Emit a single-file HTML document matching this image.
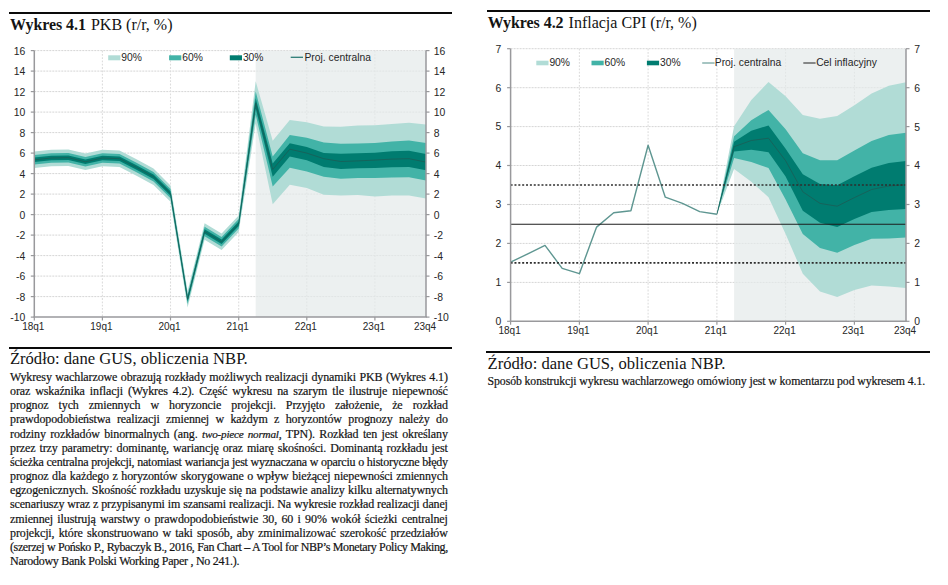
<!DOCTYPE html>
<html lang="pl"><head><meta charset="utf-8"><title>Wykresy 4.1 i 4.2</title>
<style>
html,body{margin:0;padding:0;background:#fff;}
body{width:948px;height:585px;position:relative;overflow:hidden;font-family:"Liberation Serif",serif;color:#141414;}
.rule{position:absolute;height:2px;background:#0a0a0a;}
.t{position:absolute;white-space:nowrap;line-height:1;}
.ttl{font-size:16px;}
.ttl b{letter-spacing:-0.06px;margin-right:1px;}
.src{font-size:16.6px;}
.p{position:absolute;left:10px;width:437.8px;font-size:12px;line-height:14.19px;-webkit-text-stroke:0.2px #141414;}
.p div{text-align:justify;text-align-last:justify;white-space:nowrap;height:14.19px;}
.p i{font-size:0.93em;letter-spacing:-0.2px;}
.p div.last{text-align:left;text-align-last:left;}
.n{font-size:11.8px;letter-spacing:-0.103px;-webkit-text-stroke:0.2px #141414;}
</style></head><body>
<svg width="948" height="585" viewBox="0 0 948 585" style="position:absolute;left:0;top:0" font-family="Liberation Sans, sans-serif" font-size="10.4" fill="#262626">
<line x1="34.3" y1="296.6" x2="426.0" y2="296.6" stroke="#d5d5d5" stroke-width="1" stroke-dasharray="2,1"/>
<line x1="34.3" y1="276.1" x2="426.0" y2="276.1" stroke="#d5d5d5" stroke-width="1" stroke-dasharray="2,1"/>
<line x1="34.3" y1="255.6" x2="426.0" y2="255.6" stroke="#d5d5d5" stroke-width="1" stroke-dasharray="2,1"/>
<line x1="34.3" y1="235.1" x2="426.0" y2="235.1" stroke="#d5d5d5" stroke-width="1" stroke-dasharray="2,1"/>
<line x1="34.3" y1="214.6" x2="426.0" y2="214.6" stroke="#d5d5d5" stroke-width="1" stroke-dasharray="2,1"/>
<line x1="34.3" y1="194.1" x2="426.0" y2="194.1" stroke="#d5d5d5" stroke-width="1" stroke-dasharray="2,1"/>
<line x1="34.3" y1="173.6" x2="426.0" y2="173.6" stroke="#d5d5d5" stroke-width="1" stroke-dasharray="2,1"/>
<line x1="34.3" y1="153.1" x2="426.0" y2="153.1" stroke="#d5d5d5" stroke-width="1" stroke-dasharray="2,1"/>
<line x1="34.3" y1="132.6" x2="426.0" y2="132.6" stroke="#d5d5d5" stroke-width="1" stroke-dasharray="2,1"/>
<line x1="34.3" y1="112.1" x2="426.0" y2="112.1" stroke="#d5d5d5" stroke-width="1" stroke-dasharray="2,1"/>
<line x1="34.3" y1="91.6" x2="426.0" y2="91.6" stroke="#d5d5d5" stroke-width="1" stroke-dasharray="2,1"/>
<line x1="34.3" y1="71.1" x2="426.0" y2="71.1" stroke="#d5d5d5" stroke-width="1" stroke-dasharray="2,1"/>
<line x1="34.3" y1="50.6" x2="426.0" y2="50.6" stroke="#d5d5d5" stroke-width="1" stroke-dasharray="2,1"/>
<line x1="102.4" y1="50.6" x2="102.4" y2="317.1" stroke="#dddddd" stroke-width="1.1" stroke-dasharray="1.8,1.5"/>
<line x1="170.5" y1="50.6" x2="170.5" y2="317.1" stroke="#dddddd" stroke-width="1.1" stroke-dasharray="1.8,1.5"/>
<line x1="238.7" y1="50.6" x2="238.7" y2="317.1" stroke="#dddddd" stroke-width="1.1" stroke-dasharray="1.8,1.5"/>
<line x1="306.8" y1="50.6" x2="306.8" y2="317.1" stroke="#dddddd" stroke-width="1.1" stroke-dasharray="1.8,1.5"/>
<line x1="374.9" y1="50.6" x2="374.9" y2="317.1" stroke="#dddddd" stroke-width="1.1" stroke-dasharray="1.8,1.5"/>
<rect x="255.7" y="50.6" width="170.3" height="266.5" fill="#e4e9ea" fill-opacity="0.7"/>
<polygon points="34.3,151.6 51.3,149.8 68.4,149.5 85.4,153.6 102.4,149.8 119.5,150.5 136.5,159.2 153.5,168.5 170.5,185.4 187.6,291.0 204.6,223.3 221.6,233.6 238.7,215.6 255.7,81.3 272.7,140.8 289.8,120.0 306.8,122.3 323.8,126.5 340.8,126.7 357.9,125.6 374.9,125.2 391.9,124.0 409.0,122.8 426.0,124.6 426.0,198.5 409.0,195.4 391.9,195.6 374.9,196.4 357.9,195.0 340.8,195.4 323.8,194.7 306.8,187.9 289.8,184.7 272.7,204.3 255.7,123.4 238.7,232.0 221.6,250.0 204.6,239.7 187.6,307.4 170.5,201.8 153.5,184.9 136.5,175.7 119.5,166.9 102.4,166.2 85.4,170.0 68.4,165.9 51.3,166.2 34.3,168.0" fill="#b1dcd6"/>
<polygon points="34.3,155.0 51.3,153.3 68.4,153.0 85.4,157.1 102.4,153.3 119.5,154.0 136.5,162.7 153.5,172.0 170.5,188.9 187.6,294.4 204.6,226.8 221.6,237.0 238.7,219.1 255.7,91.6 272.7,156.5 289.8,134.9 306.8,137.7 323.8,142.5 340.8,143.7 357.9,143.5 374.9,143.1 391.9,141.4 409.0,140.6 426.0,143.1 426.0,180.4 409.0,177.3 391.9,177.5 374.9,178.0 357.9,178.0 340.8,178.7 323.8,176.7 306.8,171.5 289.8,167.7 272.7,186.4 255.7,114.7 238.7,228.5 221.6,246.5 204.6,236.2 187.6,303.9 170.5,198.3 153.5,181.4 136.5,172.2 119.5,163.5 102.4,162.7 85.4,166.5 68.4,162.4 51.3,162.7 34.3,164.5" fill="#42b3a7"/>
<polygon points="34.3,157.5 51.3,155.8 68.4,155.5 85.4,159.6 102.4,155.8 119.5,156.5 136.5,165.2 153.5,174.4 170.5,191.3 187.6,296.9 204.6,229.3 221.6,239.5 238.7,221.6 255.7,98.3 272.7,163.6 289.8,143.3 306.8,146.9 323.8,153.1 340.8,153.7 357.9,153.3 374.9,152.7 391.9,151.3 409.0,150.8 426.0,153.9 426.0,170.3 409.0,167.1 391.9,167.2 374.9,168.1 357.9,168.3 340.8,169.1 323.8,167.1 306.8,160.3 289.8,156.5 272.7,176.7 255.7,108.5 238.7,226.1 221.6,244.0 204.6,233.8 187.6,301.4 170.5,195.8 153.5,178.9 136.5,169.7 119.5,161.0 102.4,160.3 85.4,164.1 68.4,160.0 51.3,160.3 34.3,162.0" fill="#007c70"/>
<polyline points="34.3,159.8 51.3,158.0 68.4,157.7 85.4,161.8 102.4,158.0 119.5,158.7 136.5,167.4 153.5,176.7 170.5,193.6 187.6,299.2 204.6,231.5 221.6,241.8 238.7,223.8 255.7,103.4 272.7,169.5 289.8,149.2 306.8,153.1 323.8,158.7 340.8,161.5 357.9,160.9 374.9,160.1 391.9,159.1 409.0,158.7 426.0,162.1" fill="none" stroke="#1a5f57" stroke-width="0.85" stroke-linejoin="round"/>
<line x1="34.3" y1="50.6" x2="34.3" y2="317.1" stroke="#99999c" stroke-width="1.5"/>
<line x1="426.0" y1="50.6" x2="426.0" y2="317.1" stroke="#99999c" stroke-width="1.5"/>
<line x1="33.5" y1="317.1" x2="426.8" y2="317.1" stroke="#99999c" stroke-width="1.5"/>
<line x1="30.8" y1="317.1" x2="34.3" y2="317.1" stroke="#99999c" stroke-width="1.2"/>
<line x1="426.0" y1="317.1" x2="429.5" y2="317.1" stroke="#99999c" stroke-width="1.2"/>
<text x="25.3" y="321.1" text-anchor="end">-10</text>
<text x="433.8" y="321.1">-10</text>
<line x1="30.8" y1="296.6" x2="34.3" y2="296.6" stroke="#99999c" stroke-width="1.2"/>
<line x1="426.0" y1="296.6" x2="429.5" y2="296.6" stroke="#99999c" stroke-width="1.2"/>
<text x="25.3" y="300.6" text-anchor="end">-8</text>
<text x="433.8" y="300.6">-8</text>
<line x1="30.8" y1="276.1" x2="34.3" y2="276.1" stroke="#99999c" stroke-width="1.2"/>
<line x1="426.0" y1="276.1" x2="429.5" y2="276.1" stroke="#99999c" stroke-width="1.2"/>
<text x="25.3" y="280.1" text-anchor="end">-6</text>
<text x="433.8" y="280.1">-6</text>
<line x1="30.8" y1="255.6" x2="34.3" y2="255.6" stroke="#99999c" stroke-width="1.2"/>
<line x1="426.0" y1="255.6" x2="429.5" y2="255.6" stroke="#99999c" stroke-width="1.2"/>
<text x="25.3" y="259.6" text-anchor="end">-4</text>
<text x="433.8" y="259.6">-4</text>
<line x1="30.8" y1="235.1" x2="34.3" y2="235.1" stroke="#99999c" stroke-width="1.2"/>
<line x1="426.0" y1="235.1" x2="429.5" y2="235.1" stroke="#99999c" stroke-width="1.2"/>
<text x="25.3" y="239.1" text-anchor="end">-2</text>
<text x="433.8" y="239.1">-2</text>
<line x1="30.8" y1="214.6" x2="34.3" y2="214.6" stroke="#99999c" stroke-width="1.2"/>
<line x1="426.0" y1="214.6" x2="429.5" y2="214.6" stroke="#99999c" stroke-width="1.2"/>
<text x="25.3" y="218.6" text-anchor="end">0</text>
<text x="433.8" y="218.6">0</text>
<line x1="30.8" y1="194.1" x2="34.3" y2="194.1" stroke="#99999c" stroke-width="1.2"/>
<line x1="426.0" y1="194.1" x2="429.5" y2="194.1" stroke="#99999c" stroke-width="1.2"/>
<text x="25.3" y="198.1" text-anchor="end">2</text>
<text x="433.8" y="198.1">2</text>
<line x1="30.8" y1="173.6" x2="34.3" y2="173.6" stroke="#99999c" stroke-width="1.2"/>
<line x1="426.0" y1="173.6" x2="429.5" y2="173.6" stroke="#99999c" stroke-width="1.2"/>
<text x="25.3" y="177.6" text-anchor="end">4</text>
<text x="433.8" y="177.6">4</text>
<line x1="30.8" y1="153.1" x2="34.3" y2="153.1" stroke="#99999c" stroke-width="1.2"/>
<line x1="426.0" y1="153.1" x2="429.5" y2="153.1" stroke="#99999c" stroke-width="1.2"/>
<text x="25.3" y="157.1" text-anchor="end">6</text>
<text x="433.8" y="157.1">6</text>
<line x1="30.8" y1="132.6" x2="34.3" y2="132.6" stroke="#99999c" stroke-width="1.2"/>
<line x1="426.0" y1="132.6" x2="429.5" y2="132.6" stroke="#99999c" stroke-width="1.2"/>
<text x="25.3" y="136.6" text-anchor="end">8</text>
<text x="433.8" y="136.6">8</text>
<line x1="30.8" y1="112.1" x2="34.3" y2="112.1" stroke="#99999c" stroke-width="1.2"/>
<line x1="426.0" y1="112.1" x2="429.5" y2="112.1" stroke="#99999c" stroke-width="1.2"/>
<text x="25.3" y="116.1" text-anchor="end">10</text>
<text x="433.8" y="116.1">10</text>
<line x1="30.8" y1="91.6" x2="34.3" y2="91.6" stroke="#99999c" stroke-width="1.2"/>
<line x1="426.0" y1="91.6" x2="429.5" y2="91.6" stroke="#99999c" stroke-width="1.2"/>
<text x="25.3" y="95.6" text-anchor="end">12</text>
<text x="433.8" y="95.6">12</text>
<line x1="30.8" y1="71.1" x2="34.3" y2="71.1" stroke="#99999c" stroke-width="1.2"/>
<line x1="426.0" y1="71.1" x2="429.5" y2="71.1" stroke="#99999c" stroke-width="1.2"/>
<text x="25.3" y="75.1" text-anchor="end">14</text>
<text x="433.8" y="75.1">14</text>
<line x1="30.8" y1="50.6" x2="34.3" y2="50.6" stroke="#99999c" stroke-width="1.2"/>
<line x1="426.0" y1="50.6" x2="429.5" y2="50.6" stroke="#99999c" stroke-width="1.2"/>
<text x="25.3" y="54.6" text-anchor="end">16</text>
<text x="433.8" y="54.6">16</text>
<line x1="34.3" y1="317.1" x2="34.3" y2="320.6" stroke="#99999c" stroke-width="1.2"/>
<text x="33.3" y="329.8" font-size="10" text-anchor="middle">18q1</text>
<line x1="102.4" y1="317.1" x2="102.4" y2="320.6" stroke="#99999c" stroke-width="1.2"/>
<text x="101.4" y="329.8" font-size="10" text-anchor="middle">19q1</text>
<line x1="170.5" y1="317.1" x2="170.5" y2="320.6" stroke="#99999c" stroke-width="1.2"/>
<text x="169.5" y="329.8" font-size="10" text-anchor="middle">20q1</text>
<line x1="238.7" y1="317.1" x2="238.7" y2="320.6" stroke="#99999c" stroke-width="1.2"/>
<text x="237.7" y="329.8" font-size="10" text-anchor="middle">21q1</text>
<line x1="306.8" y1="317.1" x2="306.8" y2="320.6" stroke="#99999c" stroke-width="1.2"/>
<text x="305.8" y="329.8" font-size="10" text-anchor="middle">22q1</text>
<line x1="374.9" y1="317.1" x2="374.9" y2="320.6" stroke="#99999c" stroke-width="1.2"/>
<text x="373.9" y="329.8" font-size="10" text-anchor="middle">23q1</text>
<text x="425.0" y="329.8" font-size="10" text-anchor="middle">23q4</text>
<rect x="108.2" y="55.3" width="12.2" height="5" fill="#b1dcd6"/>
<text x="121.3" y="61" font-size="10.3">90%</text>
<rect x="169.1" y="55.3" width="12.2" height="5" fill="#42b3a7"/>
<text x="182.2" y="61" font-size="10.3">60%</text>
<rect x="229.8" y="55.3" width="12.2" height="5" fill="#007c70"/>
<text x="242.9" y="61" font-size="10.3">30%</text>
<line x1="290.7" y1="57.3" x2="303" y2="57.3" stroke="#2d7c75" stroke-width="1.3"/>
<text x="304.5" y="61" font-size="10.3">Proj. centralna</text>
<line x1="510.6" y1="282.4" x2="906.0" y2="282.4" stroke="#d5d5d5" stroke-width="1" stroke-dasharray="2,1"/>
<line x1="510.6" y1="243.4" x2="906.0" y2="243.4" stroke="#d5d5d5" stroke-width="1" stroke-dasharray="2,1"/>
<line x1="510.6" y1="204.5" x2="906.0" y2="204.5" stroke="#d5d5d5" stroke-width="1" stroke-dasharray="2,1"/>
<line x1="510.6" y1="165.5" x2="906.0" y2="165.5" stroke="#d5d5d5" stroke-width="1" stroke-dasharray="2,1"/>
<line x1="510.6" y1="126.6" x2="906.0" y2="126.6" stroke="#d5d5d5" stroke-width="1" stroke-dasharray="2,1"/>
<line x1="510.6" y1="87.7" x2="906.0" y2="87.7" stroke="#d5d5d5" stroke-width="1" stroke-dasharray="2,1"/>
<line x1="510.6" y1="48.7" x2="906.0" y2="48.7" stroke="#d5d5d5" stroke-width="1" stroke-dasharray="2,1"/>
<line x1="579.4" y1="48.7" x2="579.4" y2="321.3" stroke="#dddddd" stroke-width="1.1" stroke-dasharray="1.8,1.5"/>
<line x1="648.1" y1="48.7" x2="648.1" y2="321.3" stroke="#dddddd" stroke-width="1.1" stroke-dasharray="1.8,1.5"/>
<line x1="716.9" y1="48.7" x2="716.9" y2="321.3" stroke="#dddddd" stroke-width="1.1" stroke-dasharray="1.8,1.5"/>
<line x1="785.6" y1="48.7" x2="785.6" y2="321.3" stroke="#dddddd" stroke-width="1.1" stroke-dasharray="1.8,1.5"/>
<line x1="854.4" y1="48.7" x2="854.4" y2="321.3" stroke="#dddddd" stroke-width="1.1" stroke-dasharray="1.8,1.5"/>
<rect x="734.1" y="48.7" width="171.9" height="272.6" fill="#e4e9ea" fill-opacity="0.7"/>
<polygon points="716.9,214.3 734.1,126.2 751.3,100.1 768.5,81.9 785.6,96.3 802.8,114.9 820.0,118.8 837.2,116.1 854.4,105.2 871.6,93.5 888.8,85.8 906.0,82.3 906.0,288.1 888.8,286.5 871.6,285.4 854.4,290.0 837.2,297.0 820.0,291.6 802.8,273.7 785.6,234.1 768.5,197.2 751.3,181.7 734.1,168.9 716.9,214.3" fill="#b1dcd6"/>
<polygon points="716.9,214.3 734.1,136.3 751.3,120.3 768.5,109.9 785.6,129.3 802.8,153.3 820.0,160.3 837.2,160.3 854.4,150.6 871.6,140.9 888.8,135.1 906.0,132.8 906.0,237.6 888.8,238.4 871.6,238.8 854.4,245.0 837.2,252.7 820.0,248.1 802.8,234.1 785.6,199.6 768.5,168.1 751.3,161.9 734.1,158.0 716.9,214.3" fill="#42b3a7"/>
<polygon points="716.9,214.3 734.1,141.7 751.3,130.8 768.5,125.4 785.6,148.7 802.8,174.3 820.0,184.0 837.2,185.2 854.4,176.3 871.6,167.7 888.8,163.1 906.0,161.1 906.0,208.9 888.8,210.0 871.6,212.0 854.4,219.0 837.2,227.1 820.0,222.8 802.8,210.8 785.6,176.6 768.5,152.2 751.3,149.8 734.1,151.4 716.9,214.3" fill="#007c70"/>
<polyline points="716.9,214.3 734.1,146.7 751.3,140.5 768.5,138.2 785.6,160.7 802.8,191.8 820.0,203.4 837.2,206.2 854.4,197.6 871.6,189.5 888.8,186.0 906.0,184.8" fill="none" stroke="#1a5f57" stroke-width="0.85" stroke-linejoin="round"/>
<polyline points="510.6,262.1 527.8,253.9 545.0,245.4 562.2,268.3 579.4,273.7 596.6,227.1 613.7,212.8 630.9,210.8 648.1,145.2 665.3,197.2 682.5,203.4 699.7,211.6 716.9,214.3" fill="none" stroke="#5e9691" stroke-width="1.4" stroke-linejoin="round"/>
<line x1="510.6" y1="224.2" x2="906.0" y2="224.2" stroke="#1c1c1c" stroke-width="1.15"/>
<line x1="510.6" y1="262.9" x2="906.0" y2="262.9" stroke="#2e2e2e" stroke-width="1.7" stroke-dasharray="2,1.86"/>
<line x1="510.6" y1="185.0" x2="906.0" y2="185.0" stroke="#2e2e2e" stroke-width="1.7" stroke-dasharray="2,1.86"/>
<line x1="510.6" y1="48.7" x2="510.6" y2="321.3" stroke="#99999c" stroke-width="1.5"/>
<line x1="906.0" y1="48.7" x2="906.0" y2="321.3" stroke="#99999c" stroke-width="1.5"/>
<line x1="509.8" y1="321.3" x2="906.8" y2="321.3" stroke="#99999c" stroke-width="1.5"/>
<line x1="507.1" y1="321.3" x2="510.6" y2="321.3" stroke="#99999c" stroke-width="1.2"/>
<line x1="906.0" y1="321.3" x2="909.5" y2="321.3" stroke="#99999c" stroke-width="1.2"/>
<text x="501.2" y="325.1" text-anchor="end">0</text>
<text x="914.3" y="325.2">0</text>
<line x1="507.1" y1="282.4" x2="510.6" y2="282.4" stroke="#99999c" stroke-width="1.2"/>
<line x1="906.0" y1="282.4" x2="909.5" y2="282.4" stroke="#99999c" stroke-width="1.2"/>
<text x="501.2" y="286.2" text-anchor="end">1</text>
<text x="914.3" y="286.3">1</text>
<line x1="507.1" y1="243.4" x2="510.6" y2="243.4" stroke="#99999c" stroke-width="1.2"/>
<line x1="906.0" y1="243.4" x2="909.5" y2="243.4" stroke="#99999c" stroke-width="1.2"/>
<text x="501.2" y="247.2" text-anchor="end">2</text>
<text x="914.3" y="247.3">2</text>
<line x1="507.1" y1="204.5" x2="510.6" y2="204.5" stroke="#99999c" stroke-width="1.2"/>
<line x1="906.0" y1="204.5" x2="909.5" y2="204.5" stroke="#99999c" stroke-width="1.2"/>
<text x="501.2" y="208.3" text-anchor="end">3</text>
<text x="914.3" y="208.4">3</text>
<line x1="507.1" y1="165.5" x2="510.6" y2="165.5" stroke="#99999c" stroke-width="1.2"/>
<line x1="906.0" y1="165.5" x2="909.5" y2="165.5" stroke="#99999c" stroke-width="1.2"/>
<text x="501.2" y="169.3" text-anchor="end">4</text>
<text x="914.3" y="169.4">4</text>
<line x1="507.1" y1="126.6" x2="510.6" y2="126.6" stroke="#99999c" stroke-width="1.2"/>
<line x1="906.0" y1="126.6" x2="909.5" y2="126.6" stroke="#99999c" stroke-width="1.2"/>
<text x="501.2" y="130.4" text-anchor="end">5</text>
<text x="914.3" y="130.5">5</text>
<line x1="507.1" y1="87.7" x2="510.6" y2="87.7" stroke="#99999c" stroke-width="1.2"/>
<line x1="906.0" y1="87.7" x2="909.5" y2="87.7" stroke="#99999c" stroke-width="1.2"/>
<text x="501.2" y="91.5" text-anchor="end">6</text>
<text x="914.3" y="91.6">6</text>
<line x1="507.1" y1="48.7" x2="510.6" y2="48.7" stroke="#99999c" stroke-width="1.2"/>
<line x1="906.0" y1="48.7" x2="909.5" y2="48.7" stroke="#99999c" stroke-width="1.2"/>
<text x="501.2" y="52.5" text-anchor="end">7</text>
<text x="914.3" y="52.6">7</text>
<line x1="510.6" y1="321.3" x2="510.6" y2="324.8" stroke="#99999c" stroke-width="1.2"/>
<text x="509.6" y="334.2" font-size="10" text-anchor="middle">18q1</text>
<line x1="579.4" y1="321.3" x2="579.4" y2="324.8" stroke="#99999c" stroke-width="1.2"/>
<text x="578.4" y="334.2" font-size="10" text-anchor="middle">19q1</text>
<line x1="648.1" y1="321.3" x2="648.1" y2="324.8" stroke="#99999c" stroke-width="1.2"/>
<text x="647.1" y="334.2" font-size="10" text-anchor="middle">20q1</text>
<line x1="716.9" y1="321.3" x2="716.9" y2="324.8" stroke="#99999c" stroke-width="1.2"/>
<text x="715.9" y="334.2" font-size="10" text-anchor="middle">21q1</text>
<line x1="785.6" y1="321.3" x2="785.6" y2="324.8" stroke="#99999c" stroke-width="1.2"/>
<text x="784.6" y="334.2" font-size="10" text-anchor="middle">22q1</text>
<line x1="854.4" y1="321.3" x2="854.4" y2="324.8" stroke="#99999c" stroke-width="1.2"/>
<text x="853.4" y="334.2" font-size="10" text-anchor="middle">23q1</text>
<text x="905.0" y="334.2" font-size="10" text-anchor="middle">23q4</text>
<rect x="536.3" y="60.7" width="12.2" height="4.6" fill="#b1dcd6"/>
<text x="549.4" y="66.4" font-size="10.3">90%</text>
<rect x="591.5" y="60.7" width="12.2" height="4.6" fill="#42b3a7"/>
<text x="604.6" y="66.4" font-size="10.3">60%</text>
<rect x="646.9" y="60.7" width="12.2" height="4.6" fill="#007c70"/>
<text x="660.0" y="66.4" font-size="10.3">30%</text>
<line x1="702.2" y1="63" x2="714.6" y2="63" stroke="#5e9691" stroke-width="1.1"/>
<text x="714.8" y="66.4" font-size="10.3">Proj. centralna</text>
<line x1="803.3" y1="63" x2="815.6" y2="63" stroke="#333" stroke-width="1.1"/>
<text x="816.2" y="66.4" font-size="10.3">Cel inflacyjny</text>
</svg>
<div class="rule" style="left:9.3px;top:12px;width:442.5px"></div>
<div class="t ttl" id="t1" style="left:10.1px;top:16.8px"><b>Wykres 4.1</b> PKB (r/r, %)</div>
<div class="rule" style="left:8.6px;top:347px;width:443.6px"></div>
<div class="t src" id="s1" style="left:9.9px;top:351.1px">Źródło: dane GUS, obliczenia NBP.</div>
<div class="p" id="para" style="top:369.8px">
<div style="letter-spacing:-0.120px">Wykresy wachlarzowe obrazują rozkłady możliwych realizacji dynamiki PKB (Wykres 4.1)</div>
<div style="letter-spacing:-0.120px">oraz wskaźnika inflacji (Wykres 4.2). Część wykresu na szarym tle ilustruje niepewność</div>
<div style="letter-spacing:-0.120px">prognoz tych zmiennych w horyzoncie projekcji. Przyjęto założenie, że rozkład</div>
<div style="letter-spacing:-0.120px">prawdopodobieństwa realizacji zmiennej w każdym z horyzontów prognozy należy do</div>
<div style="letter-spacing:-0.120px">rodziny rozkładów binormalnych (ang. <i>two-piece normal</i>, TPN). Rozkład ten jest określany</div>
<div style="letter-spacing:-0.120px">przez trzy parametry: dominantę, wariancję oraz miarę skośności. Dominantą rozkładu jest</div>
<div style="letter-spacing:-0.248px">ścieżka centralna projekcji, natomiast wariancja jest wyznaczana w oparciu o historyczne błędy</div>
<div style="letter-spacing:-0.120px">prognoz dla każdego z horyzontów skorygowane o wpływ bieżącej niepewności zmiennych</div>
<div style="letter-spacing:-0.120px">egzogenicznych. Skośność rozkładu uzyskuje się na podstawie analizy kilku alternatywnych</div>
<div style="letter-spacing:-0.152px">scenariuszy wraz z przypisanymi im szansami realizacji. Na wykresie rozkład realizacji danej</div>
<div style="letter-spacing:-0.120px">zmiennej ilustrują warstwy o prawdopodobieństwie 30, 60 i 90% wokół ścieżki centralnej</div>
<div style="letter-spacing:-0.120px">projekcji, które skonstruowano w taki sposób, aby zminimalizować szerokość przedziałów</div>
<div style="letter-spacing:-0.387px">(szerzej w Pońsko P., Rybaczyk B., 2016, Fan Chart <b>–</b> A Tool for NBP’s Monetary Policy Making,</div>
<div class="last" style="letter-spacing:-0.267px">Narodowy Bank Polski Working Paper , No 241.).</div>
</div>
<div class="rule" style="left:486.8px;top:10.4px;width:443.2px"></div>
<div class="t ttl" id="t2" style="left:487.7px;top:14.8px"><b>Wykres 4.2</b> Inflacja CPI (r/r, %)</div>
<div class="rule" style="left:486px;top:350.9px;width:444px"></div>
<div class="t src" id="s2" style="left:487.5px;top:356.0px">Źródło: dane GUS, obliczenia NBP.</div>
<div class="t n" id="n2" style="left:487.6px;top:376.0px">Sposób konstrukcji wykresu wachlarzowego omówiony jest w komentarzu pod wykresem 4.1.</div>
</body></html>
